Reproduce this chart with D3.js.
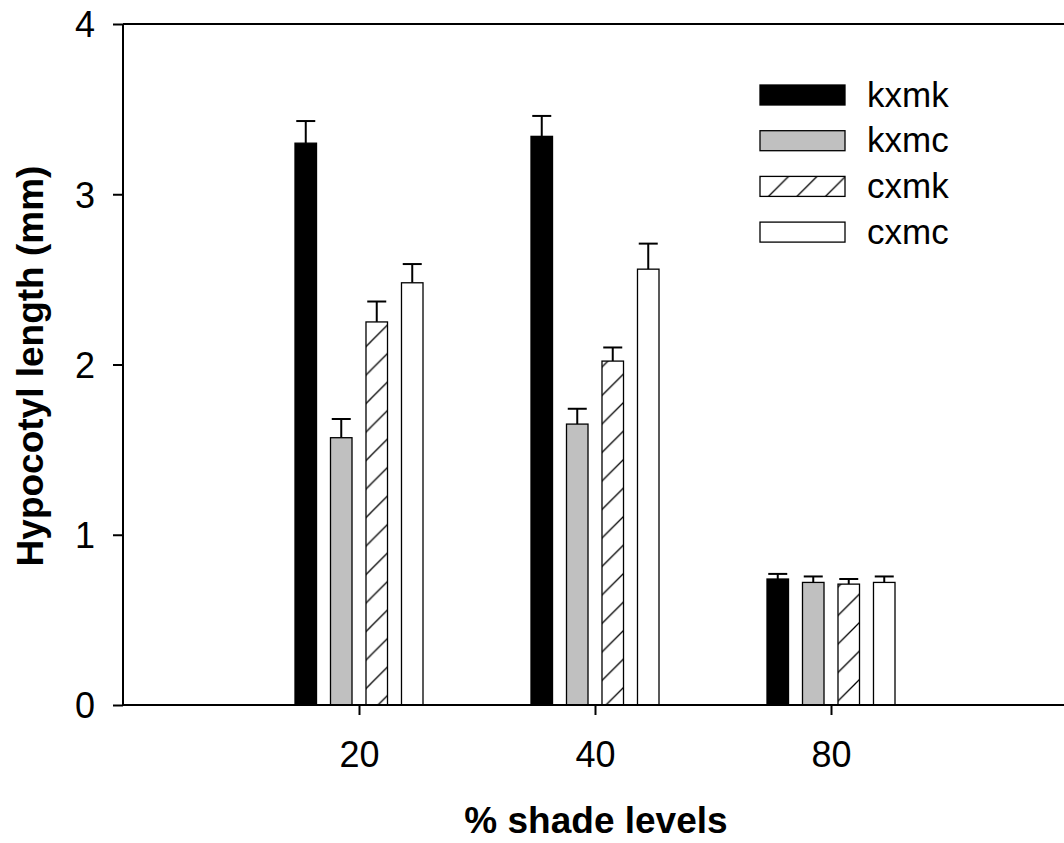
<!DOCTYPE html>
<html>
<head>
<meta charset="utf-8">
<script src="https://cdn.jsdelivr.net/npm/d3@7"></script>
<style>
  html, body { margin: 0; padding: 0; background: #fff; }
  svg { display: block; }
  text { font-family: "Liberation Sans", Arial, sans-serif; fill: #000; }
</style>
</head>
<body>
<svg id="chart" width="1064" height="843"></svg>
<script>
// Shade levels (x categories)
const shadeLevels = ["20", "40", "80"];
// Cross names (series)
const crosses = ["kxmk", "kxmc", "cxmk", "cxmc"];
// Mean hypocotyl length (mm) per cross, one value per shade level
const kxmk = [3.30, 3.34, 0.74];
const kxmc = [1.57, 1.65, 0.72];
const cxmk = [2.25, 2.02, 0.71];
const cxmc = [2.48, 2.56, 0.72];
// Standard errors, same order
const kxmkErr = [0.13, 0.12, 0.03];
const kxmcErr = [0.11, 0.09, 0.035];
const cxmkErr = [0.12, 0.08, 0.03];
const cxmcErr = [0.11, 0.15, 0.035];
// Y-axis ticks
const yTicks = [0, 1, 2, 3, 4];

const means = { kxmk, kxmc, cxmk, cxmc };
const errs = { kxmk: kxmkErr, kxmc: kxmcErr, cxmk: cxmkErr, cxmc: cxmcErr };

const svg = d3.select("#chart");

const plotLeft = 123, plotRight = 1067, plotTop = 24, plotBottom = 705;

// Category positions 1..3 on a 0..4 axis
const x = d3.scaleLinear().domain([0, 4]).range([plotLeft, plotRight]);
const xInner = d3.scaleBand().domain(crosses).range([-64, 64]).paddingInner(0.394).paddingOuter(0);
const y = d3.scaleLinear().domain([0, 4]).range([plotBottom, plotTop]);

const fills = { kxmk: "#000", kxmc: "#c0c0c0", cxmk: "url(#hatch)", cxmc: "#fff" };

// Diagonal hatch pattern
const defs = svg.append("defs");
const s = 28.5;
const pat = defs.append("pattern")
  .attr("id", "hatch")
  .attr("patternUnits", "userSpaceOnUse")
  .attr("width", s).attr("height", s);
pat.append("rect").attr("width", s).attr("height", s).attr("fill", "#fff");
pat.append("path")
  .attr("d", `M-2,${s + 2} L${s + 2},-2 M${-s / 2},${s / 2} L${s / 2},${-s / 2} M${s / 2},${s * 1.5} L${s * 1.5},${s / 2}`)
  .attr("stroke", "#000").attr("stroke-width", 1.3);

// Top frame line
svg.append("line")
  .attr("x1", plotLeft).attr("x2", plotRight).attr("y1", plotTop).attr("y2", plotTop)
  .attr("stroke", "#000").attr("stroke-width", 2);

// Bars and error bars
const rows = [];
shadeLevels.forEach((lvl, i) => {
  crosses.forEach(c => rows.push({ lvl, i, c, v: means[c][i], e: errs[c][i] }));
});

const g = svg.append("g");
const bw = xInner.bandwidth();

// Error bars (drawn first so the bar top sits over the stem)
const eb = g.selectAll("g.err").data(rows).join("g").attr("class", "err");
eb.append("line")
  .attr("x1", d => x(d.i + 1) + xInner(d.c) + bw / 2)
  .attr("x2", d => x(d.i + 1) + xInner(d.c) + bw / 2)
  .attr("y1", d => y(d.v))
  .attr("y2", d => y(d.v + d.e))
  .attr("stroke", "#000").attr("stroke-width", 2);
eb.append("line")
  .attr("x1", d => x(d.i + 1) + xInner(d.c) + bw / 2 - 9.5)
  .attr("x2", d => x(d.i + 1) + xInner(d.c) + bw / 2 + 9.5)
  .attr("y1", d => y(d.v + d.e))
  .attr("y2", d => y(d.v + d.e))
  .attr("stroke", "#000").attr("stroke-width", 2);

g.selectAll("rect.bar").data(rows).join("rect")
  .attr("class", "bar")
  .attr("x", d => x(d.i + 1) + xInner(d.c))
  .attr("width", bw)
  .attr("y", d => y(d.v))
  .attr("height", d => y(0) - y(d.v))
  .attr("fill", d => fills[d.c])
  .attr("stroke", "#000")
  .attr("stroke-width", 1.3);

// Y axis
const yAxis = d3.axisLeft(y).tickValues(yTicks).tickFormat(d3.format("d")).tickSize(10).tickPadding(18);
const ya = svg.append("g").attr("transform", `translate(${plotLeft},0)`).call(yAxis);
ya.select(".domain").attr("stroke-width", 2).attr("d", `M-0,${plotTop}V${plotBottom}`);
ya.selectAll(".tick line").attr("stroke-width", 2);
ya.selectAll(".tick text")
  .style("font-family", "'Liberation Sans', Arial, sans-serif")
  .style("font-size", "36px")
  .attr("dy", "0.36em");

// X axis
const xAxis = d3.axisBottom(x).tickValues([1, 2, 3]).tickFormat((d) => shadeLevels[d - 1]).tickSize(10).tickPadding(26);
const xa = svg.append("g").attr("transform", `translate(0,${plotBottom})`).call(xAxis);
xa.select(".domain").attr("stroke-width", 2).attr("d", `M${plotLeft},0H${plotRight}`);
xa.selectAll(".tick line").attr("stroke-width", 2);
xa.selectAll(".tick text")
  .style("font-family", "'Liberation Sans', Arial, sans-serif")
  .style("font-size", "36px")
  .attr("dy", "0.71em");

// Axis titles
svg.append("text")
  .attr("x", 596).attr("y", 833)
  .attr("text-anchor", "middle")
  .style("font-size", "37px").style("font-weight", "bold")
  .text("% shade levels");

svg.append("text")
  .attr("transform", "translate(43,366) rotate(-90)")
  .attr("text-anchor", "middle")
  .style("font-size", "37px").style("font-weight", "bold")
  .text("Hypocotyl length (mm)");

// Legend
const leg = svg.append("g").attr("transform", "translate(760,85)");
const items = leg.selectAll("g").data(crosses).join("g")
  .attr("transform", (d, i) => `translate(0,${i * 45.7})`);
items.append("rect")
  .attr("width", 85).attr("height", 20)
  .attr("fill", d => fills[d])
  .attr("stroke", "#000").attr("stroke-width", 1.3);
items.append("text")
  .attr("x", 107).attr("y", 21.5)
  .style("font-size", "35px")
  .text(d => d);
</script>
</body>
</html>
